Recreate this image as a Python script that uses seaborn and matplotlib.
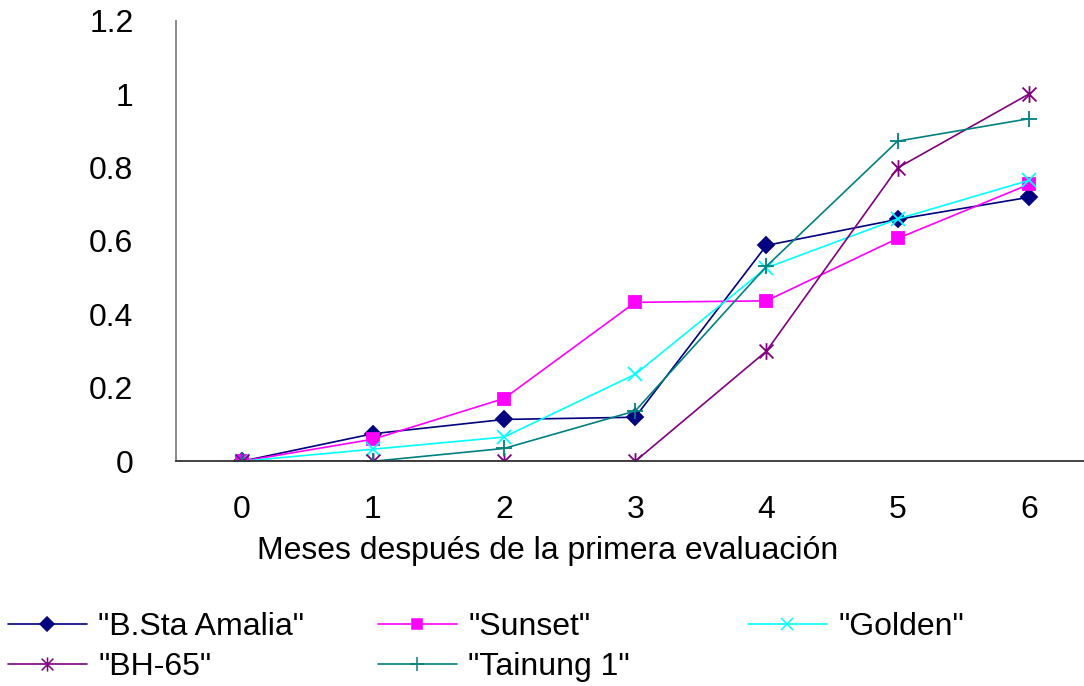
import numpy as np
import pandas as pd
import seaborn as sns
import matplotlib.pyplot as plt
from matplotlib.lines import Line2D
from matplotlib.path import Path

# months after first evaluation
meses = [0, 1, 2, 3, 4, 5, 6]

# values
sta_amalia = [0.0, 0.075, 0.114, 0.120, 0.588, 0.659, 0.719]
sunset = [0.0, 0.060, 0.171, 0.433, 0.437, 0.607, 0.754]
golden = [0.0, 0.033, 0.066, 0.237, 0.527, 0.660, 0.765]
bh65 = [0.0, 0.0, 0.0, 0.0, 0.300, 0.799, 1.0]
tainung = [0.0, 0.0, 0.035, 0.137, 0.531, 0.872, 0.933]

labels = ['"B.Sta Amalia"', '"Sunset"', '"Golden"', '"BH-65"', '"Tainung 1"']
series = [sta_amalia, sunset, golden, bh65, tainung]
colors = ["#000080", "#FF00FF", "#00FFFF", "#800080", "#008080"]

# excel style asterisk: x plus a vertical bar
star = Path([(-1, -1), (1, 1), (-1, 1), (1, -1), (0, -1.2), (0, 1.2)],
            [Path.MOVETO, Path.LINETO, Path.MOVETO, Path.LINETO, Path.MOVETO, Path.LINETO])
markers = ["D", "s", "x", star, "+"]
msizes = [8, 9, 10, 12, 12]

sns.set_style("white")
plt.rcParams['font.family'] = ['Liberation Sans', 'DejaVu Sans']
plt.rcParams['text.color'] = 'black'
plt.rcParams['xtick.color'] = 'black'
plt.rcParams['ytick.color'] = 'black'
FS = 23

fig = plt.figure(figsize=(10.84, 6.86), dpi=100)
ax = fig.add_axes([176 / 1084, 224.7 / 686, 918.4 / 1084, 440.6 / 686])

handles = []
for lab, vals, c, m, ms in zip(labels, series, colors, markers, msizes):
    sns.lineplot(x=meses, y=vals, color=c, marker=m, markersize=ms, mec=c, mfc=c,
                 mew=1.3, lw=1.2, ax=ax, label=lab)
    handles.append(Line2D([], [], color=c, marker=m, markersize=ms * 0.85, mec=c, mfc=c,
                          mew=1.1, lw=1.2))
ax.get_legend().remove()

ax.set_xlim(-0.5, 6.5)
ax.set_ylim(0, 1.2)
ax.set_yticks(np.arange(0, 1.21, 0.2))
ax.set_yticklabels(["0", "0.2", "0.4", "0.6", "0.8", "1", "1.2"])
ax.set_xticks(np.arange(-0.5, 6.6, 1))
ax.set_xticklabels([])
ax.set_xticks(meses, minor=True)
ax.set_xticklabels([str(m) for m in meses], minor=True)
ax.tick_params(axis="x", which="major", direction="out", length=6, width=1, color="#333333")
ax.tick_params(axis="x", which="minor", length=0, pad=24, labelsize=FS)
ax.tick_params(axis="y", direction="out", length=8.6, width=1, color="#000000", pad=22, labelsize=FS)

for s in ["top", "right"]:
    ax.spines[s].set_visible(False)
ax.spines["left"].set_color("#808080")
ax.spines["left"].set_linewidth(1.3)
ax.spines["bottom"].set_color("#333333")
ax.spines["bottom"].set_linewidth(1.3)
ax.set_xlabel("")
ax.set_ylabel("")

fig.text(548 / 1084, 1 - 551 / 686, "Meses después de la primera evaluación",
         ha="center", va="center", fontsize=FS)

# legend laid out row by row, one column at a time
cols = [[0, 3], [1, 4], [2]]
col_x = [8, 378, 748]
for idx, x0 in zip(cols, col_x):
    fig.legend([handles[i] for i in idx], [labels[i] for i in idx], frameon=False,
               fontsize=FS, loc="upper left", bbox_to_anchor=(x0 / 1084, 1 - 612 / 686),
               handlelength=2.47, handletextpad=0.35, labelspacing=0.32,
               borderaxespad=0, borderpad=0)

fig.savefig("out.png", dpi=100)
